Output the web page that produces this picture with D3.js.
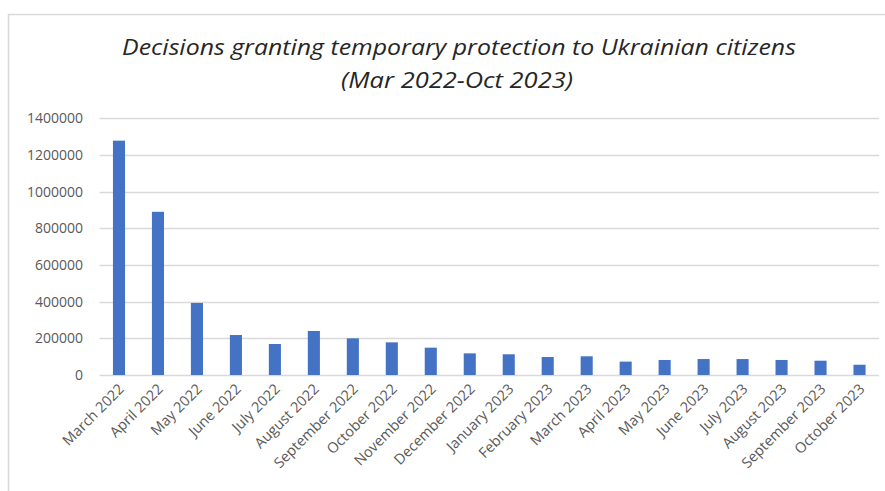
<!DOCTYPE html>
<html>
<head>
<meta charset="utf-8">
<script src="https://cdn.jsdelivr.net/npm/d3@7"></script>
<style>
  html, body { margin: 0; padding: 0; background: #fff; }
  svg { display: block; }
</style>
</head>
<body>
<svg id="chart" width="885" height="491"></svg>
<script>
// Monthly decisions granting temporary protection
const months = [
  "March 2022", "April 2022", "May 2022", "June 2022", "July 2022",
  "August 2022", "September 2022", "October 2022", "November 2022", "December 2022",
  "January 2023", "February 2023", "March 2023", "April 2023", "May 2023",
  "June 2023", "July 2023", "August 2023", "September 2023", "October 2023"
];
const decisions = [
  1278000, 890000, 393000, 218000, 169000,
  240000, 200000, 178000, 149000, 118000,
  113000, 98000, 102000, 73000, 82000,
  87000, 87000, 82000, 78000, 56000
];
const yTicks = [0, 200000, 400000, 600000, 800000, 1000000, 1200000, 1400000];
const titleLines = [
  "Decisions granting temporary protection to Ukrainian citizens",
  "(Mar 2022-Oct 2023)"
];

const svg = d3.select("#chart");
const W = 885, H = 491;
const font = "'Open Sans', 'DejaVu Sans', sans-serif";
const grey = "#595959";

// chart frame (left and top edges visible)
svg.append("path")
  .attr("d", `M8.5,${H} V14.5 H${W}`)
  .attr("fill", "none")
  .attr("stroke", "#d9d9d9")
  .attr("stroke-width", 1.5);

const plot = { left: 99.5, right: 879, top: 118.3, bottom: 375 };

const x = d3.scaleBand()
  .domain(months)
  .range([plot.left, plot.right])
  .paddingInner(0.69)
  .paddingOuter(0.345);

const y = d3.scaleLinear()
  .domain([0, 1400000])
  .range([plot.bottom, plot.top]);

// horizontal gridlines
svg.append("g")
  .selectAll("line")
  .data(yTicks)
  .join("line")
  .attr("x1", plot.left)
  .attr("x2", plot.right)
  .attr("y1", d => Math.round(y(d)) + 0.5)
  .attr("y2", d => Math.round(y(d)) + 0.5)
  .attr("stroke", "#d9d9d9")
  .attr("stroke-width", 1.3);

// y axis labels
const yAxis = d3.axisLeft(y)
  .tickValues(yTicks)
  .tickFormat(d3.format("d"))
  .tickSize(0)
  .tickPadding(16.5);
svg.append("g")
  .attr("transform", `translate(${plot.left},0)`)
  .call(yAxis)
  .call(g => g.select(".domain").remove())
  .call(g => g.selectAll("text")
    .attr("fill", grey)
    .style("font-family", font)
    .style("font-size", "14px"));

// bars
svg.append("g")
  .selectAll("rect")
  .data(months)
  .join("rect")
  .attr("x", d => x(d))
  .attr("width", x.bandwidth())
  .attr("y", (d, i) => y(decisions[i]))
  .attr("height", (d, i) => y(0) - y(decisions[i]))
  .attr("fill", "#4472C4");

// x axis labels, rotated
const xAxis = d3.axisBottom(x).tickSize(0).tickPadding(0);
svg.append("g")
  .attr("transform", `translate(0,${plot.bottom})`)
  .call(xAxis)
  .call(g => g.select(".domain").remove())
  .call(g => g.selectAll("text")
    .attr("fill", grey)
    .style("font-family", font)
    .style("font-size", "14.5px")
    .attr("text-anchor", "end")
    .attr("dy", null)
    .attr("y", 0)
    .attr("transform", "translate(6,15) rotate(-45)"));

// title, two centred lines
const titlePos = [[459, 55], [457, 88]];
const targetWidths = [674, 232];
const title = svg.append("g")
  .style("font-family", font)
  .style("font-style", "italic")
  .style("font-size", "21px")
  .attr("fill", "#262626");
title.selectAll("text")
  .data(titleLines)
  .join("text")
  .attr("text-anchor", "middle")
  .text(d => d)
  .each(function(d, i) {
    // widen the glyphs horizontally to the printed line width
    const sx = targetWidths[i] / this.getComputedTextLength();
    d3.select(this).attr("transform",
      `translate(${titlePos[i][0]},${titlePos[i][1]}) scale(${sx.toFixed(4)},1)`);
  });
</script>
</body>
</html>
